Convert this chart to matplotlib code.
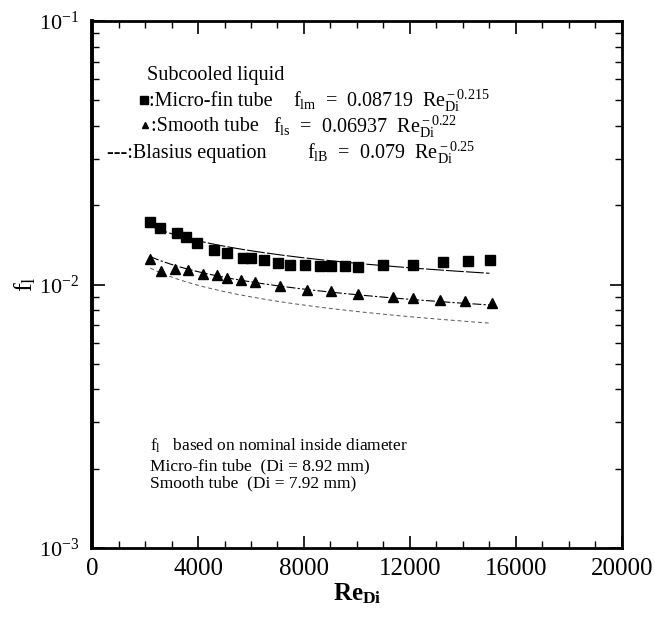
import matplotlib
matplotlib.use('Agg')
import matplotlib.pyplot as plt
from matplotlib.ticker import MultipleLocator, LogLocator, NullFormatter
import numpy as np

plt.rcParams['font.family'] = ['Liberation Serif', 'DejaVu Serif']
plt.rcParams['mathtext.fontset'] = 'custom'
plt.rcParams['mathtext.rm'] = 'Liberation Serif'
plt.rcParams['mathtext.it'] = 'Liberation Serif:italic'
plt.rcParams['mathtext.bf'] = 'Liberation Serif:bold'

# micro-fin tube (squares)
re_micro = [2189, 2566, 3208, 3547, 3962, 4604, 5113, 5687, 5989, 6502, 7030,
            7483, 8057, 8604, 9019, 9547, 10049, 10992, 12102, 13234, 14177, 15019]
f_micro = [0.01721, 0.01633, 0.01563, 0.01509, 0.01438, 0.01353, 0.01315, 0.01264,
           0.01264, 0.01234, 0.01212, 0.01191, 0.01191, 0.01178, 0.01174, 0.01171,
           0.01164, 0.01184, 0.01191, 0.01215, 0.01226, 0.01234]

# smooth tube (triangles)
re_smooth = [2189, 2604, 3143, 3611, 4177, 4706, 5106, 5623, 6151, 7094, 8102,
             9019, 10026, 11370, 12102, 13132, 14075, 15106]
f_smooth = [0.01252, 0.01121, 0.01143, 0.01131, 0.01098, 0.01082, 0.01060, 0.01036,
            0.01020, 0.00985, 0.00955, 0.00941, 0.00922, 0.00895, 0.00890, 0.00875,
            0.00864, 0.00854]

# correlations  f = C * Re^n
coef_micro, exp_micro = 0.08719, -0.215
coef_smooth, exp_smooth = 0.06937, -0.22
coef_blasius, exp_blasius = 0.079, -0.25
re_fit = np.linspace(2200, 15000, 200)

fig = plt.figure(figsize=(6.55, 6.2), dpi=100)
ax = fig.add_axes([0.1405, 0.1161, 0.809, 0.850])

ax.plot(re_fit, coef_micro * re_fit ** exp_micro, color='black', lw=0.8,
        dashes=(16, 2))
ax.plot(re_fit, coef_smooth * re_fit ** exp_smooth, color='black', lw=0.8,
        dashes=(8, 2, 2, 2))
ax.plot(re_fit, coef_blasius * re_fit ** exp_blasius, color='#555555', lw=0.7,
        dashes=(4, 3))
ax.plot(re_micro, f_micro, 's', color='black', ms=6.5)
ax.plot(re_smooth, f_smooth, '^', color='black', ms=7)

ax.set_yscale('log')
ax.set_xlim(0, 20000)
ax.set_ylim(1e-3, 1e-1)
ax.xaxis.set_major_locator(MultipleLocator(4000))
ax.xaxis.set_minor_locator(MultipleLocator(1000))
ax.yaxis.set_minor_locator(LogLocator(base=10, subs=np.arange(2, 10)))
ax.yaxis.set_minor_formatter(NullFormatter())
ax.tick_params(which='both', direction='in', top=True, right=True)
ax.tick_params(which='major', length=9, width=1.2)
ax.tick_params(which='minor', length=5, width=1)
ax.tick_params(axis='x', labelsize=18, pad=7)
ax.tick_params(axis='y', labelsize=16, pad=9)
for sp in ax.spines.values():
    sp.set_linewidth(2)
ax.spines['left'].set_linewidth(2.8)

ax.set_xlabel(r'Re$_{\mathbf{Di}}$', fontsize=18, fontweight='bold', labelpad=1)
ax.set_ylabel(r'f$_{\rm l}$', fontsize=19, labelpad=1)

tr = ax.transAxes
fs = 14.5
ax.text(0.104, 0.8975, 'Subcooled liquid', transform=tr, fontsize=fs, va='center')
ax.plot([0.098], [0.850], 's', color='black', ms=5.5, transform=tr, clip_on=False)
ax.text(0.108, 0.848, ':Micro-fin tube', transform=tr, fontsize=fs, va='center')
ax.text(0.379, 0.848, r'f$_{\rm lm}$  =  0.08719  Re$_{\rm Di}^{\rm -0.215}$',
        transform=tr, fontsize=fs, va='center')
ax.plot([0.100], [0.803], '^', color='black', ms=5, transform=tr, clip_on=False)
ax.text(0.112, 0.799, ':Smooth tube', transform=tr, fontsize=fs, va='center')
ax.text(0.342, 0.799, r'f$_{\rm ls}$  =  0.06937  Re$_{\rm Di}^{\rm -0.22}$',
        transform=tr, fontsize=fs, va='center')
ax.text(0.028, 0.7495, '---:Blasius equation', transform=tr, fontsize=fs, va='center')
ax.text(0.406, 0.7495, r'f$_{\rm lB}$  =  0.079  Re$_{\rm Di}^{\rm -0.25}$',
        transform=tr, fontsize=fs, va='center')

fb = 12.5
ax.text(0.109, 0.1936, r'f$_{\rm l}$   based on nominal inside diameter', transform=tr,
        fontsize=fb, va='center')
ax.text(0.109, 0.1556, 'Micro-fin tube  (Di = 8.92 mm)', transform=tr,
        fontsize=fb, va='center')
ax.text(0.109, 0.1233, 'Smooth tube  (Di = 7.92 mm)', transform=tr,
        fontsize=fb, va='center')

fig.savefig('out.png', dpi=100)
